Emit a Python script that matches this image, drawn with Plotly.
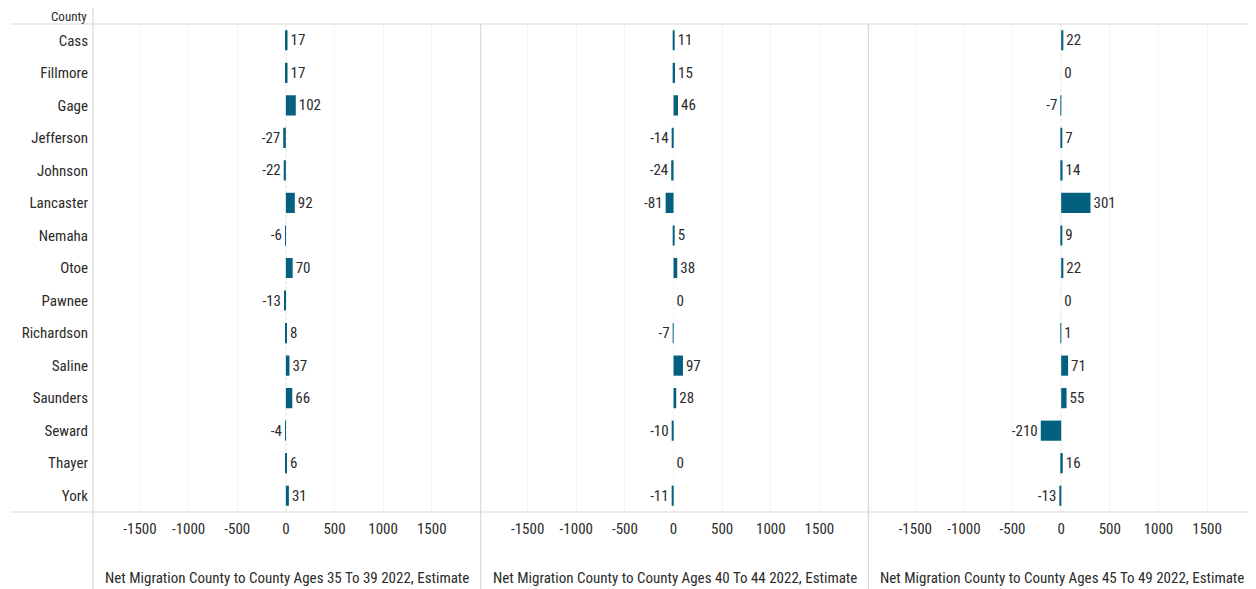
import plotly.graph_objects as go

counties = ["Cass", "Fillmore", "Gage", "Jefferson", "Johnson", "Lancaster", "Nemaha", "Otoe",
            "Pawnee", "Richardson", "Saline", "Saunders", "Seward", "Thayer", "York"]
ages_35_39 = [17, 17, 102, -27, -22, 92, -6, 70, -13, 8, 37, 66, -4, 6, 31]
ages_40_44 = [11, 15, 46, -14, -24, -81, 5, 38, 0, -7, 97, 28, -10, 0, -11]
ages_45_49 = [22, 0, -7, 7, 14, 301, 9, 22, 0, 1, 71, 55, -210, 16, -13]
titles = ["Net Migration County to County Ages 35 To 39 2022, Estimate",
          "Net Migration County to County Ages 40 To 44 2022, Estimate",
          "Net Migration County to County Ages 45 To 49 2022, Estimate"]
tick_vals = [-1500, -1000, -500, 0, 500, 1000, 1500]

OFF = 8  # page body margin
W, H = 1256 - OFF, 589 - OFF
L, R, T, B = 93 - OFF, 0, 24 - OFF, 77
pw = W - L - R
ph = H - T - B

BAR = "#03617f"
TXT = "#2b2b2b"
LINE = "#d9d9d9"
FONT = "Liberation Sans Narrow, Arial Narrow, Roboto Condensed, DejaVu Sans Condensed, sans-serif"
FS = 15

fig = go.Figure()
series = [ages_35_39, ages_40_44, ages_45_49]
for i, vals in enumerate(series):
    xa = "x" if i == 0 else f"x{i+1}"
    fig.add_trace(go.Bar(
        x=vals, y=counties, orientation="h", xaxis=xa, yaxis="y",
        marker=dict(color=BAR, line=dict(width=0)), width=0.62,
        text=[str(v) for v in vals], textposition="outside", cliponaxis=False,
        textfont=dict(size=FS, color=TXT, family=FONT), showlegend=False,
        hoverinfo="x+y"))

layout = dict(
    width=W, height=H, margin=dict(l=L, r=R, t=T, b=B),
    paper_bgcolor="white", plot_bgcolor="white",
    font=dict(family=FONT, size=FS, color=TXT),
    yaxis=dict(categoryorder="array", categoryarray=counties, autorange="reversed",
               showgrid=False, zeroline=False, showline=False, ticks="",
               tickfont=dict(size=FS, color=TXT, family=FONT), ticklabelstandoff=4, fixedrange=True),
    showlegend=False,
)
for i in range(3):
    key = "xaxis" if i == 0 else f"xaxis{i+1}"
    layout[key] = dict(domain=[i / 3, (i + 1) / 3], range=[-1983, 2003], anchor="y",
                       tickvals=tick_vals, ticktext=[str(v) for v in tick_vals],
                       showgrid=True, gridcolor="#f5f5f5", gridwidth=1,
                       zeroline=False, showline=False, ticks="",
                       tickfont=dict(size=FS, color=TXT, family=FONT), ticklabelstandoff=6)
fig.update_layout(**layout)

def px_x(x):
    return (x - OFF - L) / pw

def px_y(y):
    return 1 - (y - OFF - T) / ph

shapes = []
for yy in (24, 512):
    shapes.append(dict(type="line", xref="paper", yref="paper", x0=px_x(10), x1=px_x(1256),
                       y0=px_y(yy), y1=px_y(yy), line=dict(color=LINE, width=1.2)))
shapes.append(dict(type="line", xref="paper", yref="paper", x0=0, x1=0,
                   y0=px_y(8), y1=px_y(589), line=dict(color=LINE, width=1.2)))
for i in (1, 2):
    shapes.append(dict(type="line", xref="paper", yref="paper", x0=i / 3, x1=i / 3,
                       y0=px_y(24), y1=px_y(589), line=dict(color=LINE, width=1.2)))
for i in range(3):
    xr = "x" if i == 0 else f"x{i+1}"
    shapes.append(dict(type="line", xref=xr, yref="paper", x0=0, x1=0, y0=0, y1=1,
                       line=dict(color="#c8c8c8", width=1, dash="dot"), layer="below"))
fig.update_layout(shapes=shapes)

ann = [dict(text="County", xref="paper", yref="paper", x=px_x(88), y=px_y(25),
            xanchor="right", yanchor="bottom", showarrow=False, borderpad=0,
            font=dict(size=13, color=TXT, family=FONT))]
for i, t in enumerate(titles):
    ann.append(dict(text=t, xref="paper", yref="paper", x=(i + 0.5) / 3, y=px_y(578),
                    xanchor="center", yanchor="middle", showarrow=False,
                    font=dict(size=FS, color=TXT, family=FONT)))
fig.update_layout(annotations=ann)

fig.write_html("out.html")
